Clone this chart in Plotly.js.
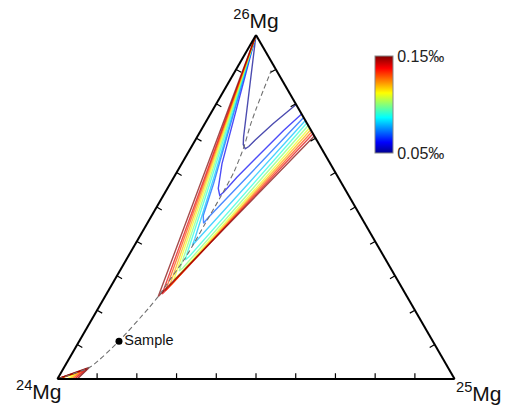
<!DOCTYPE html>
<html><head><meta charset="utf-8">
<script src="https://cdn.plot.ly/plotly-3.0.1.min.js"></script>
<style>html,body{margin:0;padding:0;background:#fff}#chart{width:513px;height:412px}</style>
</head><body><div id="chart"></div>
<script>
// Ternary coordinates in percent: [26Mg (a), 24Mg (b), 25Mg (c)]
const levels = [0.05, 0.06, 0.07, 0.08, 0.09, 0.10, 0.11, 0.12, 0.13, 0.14, 0.15];

const contour_005 = [[79.8,0,20.2],[74.27,8.52,17.21],[69.48,15.45,15.07],[67.59,18.03,14.38],[66.92,19.25,13.83],[68.17,19.12,12.71],[70.29,17.99,11.72],[100,0,0]];
const contour_006 = [[77.03,0,22.97],[72.24,6.94,20.82],[65.47,16.19,18.34],[58.66,25.47,15.87],[54.30,31.02,14.68],[53.34,32.46,14.20],[55.38,31.81,12.81],[62.56,27.29,10.15],[100,0,0]];
const contour_007 = [[76.02,0,23.98],[59.65,21.62,18.73],[47.03,38.43,14.54],[45.29,40.56,14.15],[47.53,39.51,12.96],[56.74,32.32,10.94],[100,0,0]];
const contour_008 = [[75.15,0,24.85],[57.44,22.73,19.83],[40.12,44.98,14.90],[38.81,46.64,14.55],[40.70,45.07,14.23],[59.16,30.86,9.98],[100,0,0]];
const contour_009 = [[74.42,0,25.58],[35.61,49.00,15.39],[34.59,50.52,14.89],[36.19,49.34,14.47],[59.16,31.38,9.46],[100,0,0]];
const contour_010 = [[73.69,0,26.31],[32.27,52.30,15.43],[31.40,53.62,14.98],[32.85,52.52,14.63],[59.16,31.81,9.03],[100,0,0]];
const contour_011 = [[73.02,0,26.98],[29.51,55.20,15.29],[28.78,56.32,14.90],[30.09,55.28,14.63],[59.16,32.20,8.64],[100,0,0]];
const contour_012 = [[72.44,0,27.56],[27.53,57.44,15.03],[26.95,58.36,14.69],[27.91,57.56,14.53],[59.16,32.55,8.29],[100,0,0]];
const contour_013 = [[71.86,0,28.14],[26.13,59.28,14.59],[25.67,60.01,14.32],[26.45,59.32,14.23],[59.16,32.87,7.97],[100,0,0]];
const contour_014 = [[71.31,0,28.69],[25.06,60.75,14.19],[24.71,61.30,13.99],[25.29,60.81,13.90],[59.16,33.15,7.69],[100,0,0]];
const contour_015 = [[70.64,0,29.36],[23.98,62.62,13.40],[59.16,33.64,7.20],[100,0,0]];

// small region near pure 24Mg
const small_011 = [[0,100,0],[1.60,94.45,3.95],[0,97.52,2.48]];
const small_012 = [[0,100,0],[2.03,93.36,4.61],[0,96.89,3.11]];
const small_013 = [[0,100,0],[2.47,92.26,5.27],[0,96.26,3.74]];
const small_014 = [[0,100,0],[2.91,91.28,5.81],[0,95.63,4.37]];
const small_015 = [[0,100,0],[3.34,90.31,6.35],[0,95.00,5.00]];

// mass-fractionation curve (dashed)
const fractionation = [[0,100,0],[3.49,89.98,6.53],[11.01,78.99,10.00],[20.64,66.68,12.68],[23.98,62.62,13.40],[27.33,58.93,13.74],[34.74,50.69,14.57],[38.81,46.52,14.67],[45.20,40.18,14.62],[53.05,32.35,14.60],[60.03,25.59,14.38],[67.30,19.43,13.27],[73.69,14.60,11.71],[78.63,10.62,10.75],[83.87,6.24,9.89],[89.68,1.32,9.00]];

const sample = {name: 'Sample', a: 11.01, b: 78.99, c: 10.00};

// axis tick values (percent) on every edge
const tickValues = [10, 20, 30, 40, 50, 60, 70, 80, 90];

const mainContours = [contour_005, contour_006, contour_007, contour_008, contour_009, contour_010, contour_011, contour_012, contour_013, contour_014, contour_015];
const smallContours = [[0.11, small_011], [0.12, small_012], [0.13, small_013], [0.14, small_014], [0.15, small_015]];

const cmin = 0.05, cmax = 0.15;
const jetStops = [[0, [0,0,143]], [0.111, [0,0,255]], [0.365, [0,255,255]], [0.619, [255,255,0]], [0.873, [255,0,0]], [1, [128,0,0]]];
const colorscale = jetStops.map(s => [s[0], 'rgb(' + s[1].join(',') + ')']);
function jet(v, alpha) {
  let t = Math.max(0, Math.min(1, (v - cmin) / (cmax - cmin)));
  for (let i = 1; i < jetStops.length; i++) {
    if (t <= jetStops[i][0]) {
      const [t0, c0] = jetStops[i-1], [t1, c1] = jetStops[i];
      const f = (t - t0) / (t1 - t0);
      const c = c0.map((x, k) => Math.round(x + (c1[k] - x) * f));
      return 'rgba(' + c.join(',') + ',' + alpha + ')';
    }
  }
}
function line(pts, color, extra) {
  return Object.assign({
    type: 'scatterternary', mode: 'lines',
    a: pts.map(p => p[0]), b: pts.map(p => p[1]), c: pts.map(p => p[2]),
    line: {color: color, width: 1.4},
    hoverinfo: 'skip', showlegend: false
  }, extra || {});
}

// perpendicular inward ticks built from the tick values (length in percent of altitude)
const tickLen = 1.7;
const tk = {a: [], b: [], c: []};
function seg(p, q) { tk.a.push(p[0], q[0], null); tk.b.push(p[1], q[1], null); tk.c.push(p[2], q[2], null); }
tickValues.forEach(t => {
  seg([0, 100 - t, t], [tickLen, 100 - t - tickLen / 2, t - tickLen / 2]);      // bottom edge
  seg([t, 100 - t, 0], [t - tickLen / 2, 100 - t - tickLen / 2, tickLen]);      // left edge
  seg([t, 0, 100 - t], [t - tickLen / 2, tickLen, 100 - t - tickLen / 2]);      // right edge
});

const traces = [];
mainContours.forEach((pts, i) => traces.push(line(pts, jet(levels[i], 0.7))));
smallContours.forEach(([lv, pts]) => traces.push(line(pts, jet(lv, 0.8))));
traces.push(line(fractionation, '#707070', {line: {color: '#707070', width: 1.1, dash: '5px,3px', shape: 'spline', smoothing: 0.6}}));
traces.push({type: 'scatterternary', mode: 'lines', a: tk.a, b: tk.b, c: tk.c, connectgaps: false,
  line: {color: '#000', width: 1.2}, hoverinfo: 'skip', showlegend: false});
traces.push({
  type: 'scatterternary', mode: 'markers+text',
  a: [sample.a], b: [sample.b], c: [sample.c], text: [sample.name],
  textposition: 'middle right', textfont: {size: 14.5, color: '#111', family: 'Liberation Sans, Arial, sans-serif'},
  marker: {size: 7, color: '#000'}, hoverinfo: 'skip', showlegend: false
});
traces.push({
  type: 'scatterternary', mode: 'markers',
  a: [sample.a], b: [sample.b], c: [sample.c],
  marker: {size: 1, opacity: 0, color: [cmin], cmin: cmin, cmax: cmax, colorscale: colorscale, showscale: true,
    colorbar: {x: 0.799, xanchor: 'left', xpad: 0, y: 0.798, yanchor: 'middle', ypad: 0,
      len: 97, lenmode: 'pixels', thickness: 18, thicknessmode: 'pixels',
      outlinewidth: 1, outlinecolor: '#888',
      tickmode: 'array', tickvals: [0.05, 0.15], ticktext: ['0.05‰', '0.15‰'], ticks: '',
      tickfont: {size: 16, color: '#222', family: 'Liberation Sans, Arial, sans-serif'}}},
  hoverinfo: 'skip', showlegend: false
});

const ax = {ticks: '', showticklabels: false, showgrid: false, linecolor: '#000', linewidth: 2, showline: true};
const layout = {
  width: 513, height: 412,
  margin: {l: 57, r: 58, t: 35, b: 33},
  paper_bgcolor: '#fff',
  font: {family: 'Liberation Sans, Arial, sans-serif', color: '#111'},
  ternary: {
    sum: 100, bgcolor: '#fff', domain: {x: [0, 1], y: [0, 1]},
    aaxis: Object.assign({}, ax, {title: {text: '<sup>26</sup>Mg', font: {size: 21, color: '#111'}}}),
    baxis: Object.assign({}, ax, {title: {text: ''}}),
    caxis: Object.assign({}, ax, {title: {text: ''}})
  },
  annotations: [
    {xref: 'paper', yref: 'paper', x: -0.0452, y: -0.032, xanchor: 'center', yanchor: 'middle', showarrow: false,
      text: '<sup>24</sup>Mg', font: {size: 21, color: '#111'}},
    {xref: 'paper', yref: 'paper', x: 1.0603, y: -0.038, xanchor: 'center', yanchor: 'middle', showarrow: false,
      text: '<sup>25</sup>Mg', font: {size: 21, color: '#111'}}
  ]
};
Plotly.newPlot('chart', traces, layout, {displayModeBar: false, staticPlot: true});
</script></body></html>
